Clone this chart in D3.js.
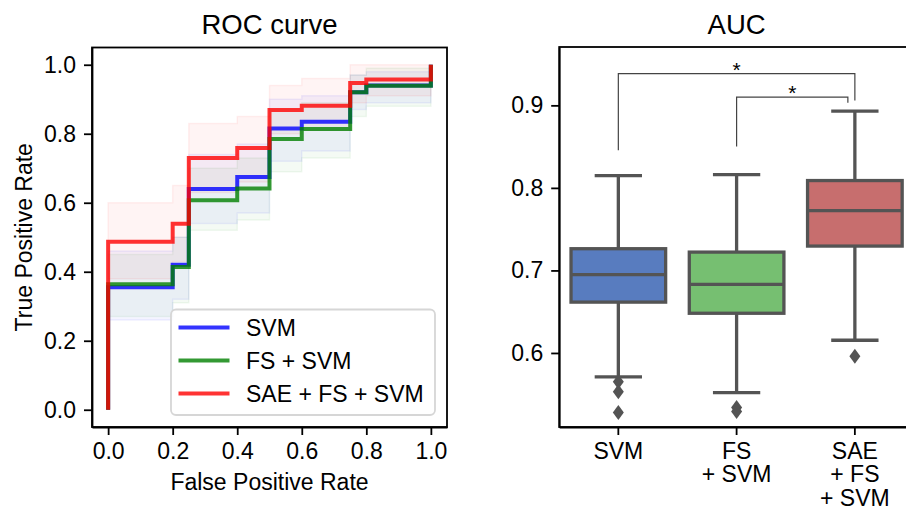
<!DOCTYPE html>
<html>
<head>
<meta charset="utf-8">
<script src="https://cdn.jsdelivr.net/npm/d3@7"></script>
<style>
  body { margin: 0; background: #fff; }
  svg { display: block; font-family: "Liberation Sans", Arial, sans-serif; }
  .axis path, .axis line { stroke: #000; stroke-width: 1.8; }
  .axis text { font-size: 23px; fill: #000; }
</style>
</head>
<body>
<div id="chart"></div>
<script>
// ROC DATA
var fprSteps = [0, 0.2, 0.25, 0.4, 0.5, 0.6, 0.75, 0.8, 1.0];
var svmTpr = [0.355, 0.42, 0.64, 0.675, 0.815, 0.835, 0.92, 0.94, 1.0];
var fsTpr = [0.364, 0.414, 0.607, 0.641, 0.785, 0.814, 0.92, 0.939, 1.0];
var saeTpr = [0.487, 0.539, 0.73, 0.759, 0.869, 0.881, 0.947, 0.957, 1.0];
var svmUpper = [0.46, 0.50, 0.74, 0.77, 0.90, 0.91, 0.97, 0.98, 0.98];
var svmLower = [0.26, 0.32, 0.54, 0.57, 0.72, 0.75, 0.87, 0.89, 0.89];
var fsUpper = [0.45, 0.50, 0.70, 0.73, 0.87, 0.89, 0.97, 0.99, 0.99];
var fsLower = [0.27, 0.31, 0.52, 0.55, 0.69, 0.73, 0.85, 0.88, 0.88];
var saeUpper = [0.60, 0.65, 0.83, 0.85, 0.94, 0.96, 1.0, 1.0, 1.0];
var saeLower = [0.38, 0.43, 0.63, 0.66, 0.80, 0.81, 0.89, 0.91, 0.91];
var rocNames = ["SVM", "FS + SVM", "SAE + FS + SVM"];
var rocTicks = [0, 0.2, 0.4, 0.6, 0.8, 1.0];

// AUC DATA
var aucCategories = ["SVM", "FS + SVM", "SAE + FS + SVM"];
var aucLabelLines = [["SVM"], ["FS", "+ SVM"], ["SAE", "+ FS", "+ SVM"]];
var aucQ1 = [0.6616, 0.6481, 0.7295];
var aucMedian = [0.6948, 0.683, 0.7725];
var aucQ3 = [0.7263, 0.7222, 0.8089];
var aucWhiskerLow = [0.571, 0.552, 0.6154];
var aucWhiskerHigh = [0.8149, 0.8161, 0.8931];
var aucOutliers = [[0.565, 0.553, 0.528], [0.534, 0.529], [0.596]];
var aucTicks = [0.6, 0.7, 0.8, 0.9];
var sigPairs = [[0, 2, 0.8455, 0.9384, 0.906], [1, 2, 0.85, 0.91, 0.9033]];

var rocColors = ["#0000ff", "#008000", "#ff0000"];
var boxColors = ["#587cbf", "#76bf71", "#c76e6e"];
var gray = "#545454";

var svg = d3.select("#chart").append("svg")
    .attr("width", 906)
    .attr("height", 509);

// ROC CURVE
var rocMargin = {left: 92, top: 47.5, right: 447, bottom: 427};
var xRoc = d3.scaleLinear().domain([-0.05, 1.05]).range([rocMargin.left, rocMargin.right]);
var yRoc = d3.scaleLinear().domain([-0.05, 1.05]).range([rocMargin.bottom, rocMargin.top]);

svg.append("clipPath").attr("id", "rocClip")
  .append("rect")
    .attr("x", rocMargin.left).attr("y", rocMargin.top)
    .attr("width", rocMargin.right - rocMargin.left)
    .attr("height", rocMargin.bottom - rocMargin.top);

var rocG = svg.append("g").attr("clip-path", "url(#rocClip)");

var bands = [[svmLower, svmUpper], [fsLower, fsUpper], [saeLower, saeUpper]];
var band = d3.area()
    .curve(d3.curveStepAfter)
    .x(function(d) { return xRoc(d.x); })
    .y0(function(d) { return yRoc(d.lo); })
    .y1(function(d) { return yRoc(d.hi); });

bands.forEach(function(b, i) {
  var pts = fprSteps.map(function(x, j) { return {x: x, lo: b[0][j], hi: b[1][j]}; });
  rocG.append("path")
      .attr("d", band(pts))
      .attr("fill", rocColors[i])
      .attr("fill-opacity", 0.045)
      .attr("stroke", rocColors[i])
      .attr("stroke-opacity", 0.06)
      .attr("stroke-width", 1.5);
});

var rocLine = d3.line()
    .curve(d3.curveStepAfter)
    .x(function(d) { return xRoc(d[0]); })
    .y(function(d) { return yRoc(d[1]); });

[svmTpr, fsTpr, saeTpr].forEach(function(tpr, i) {
  var pts = [[0, 0]].concat(fprSteps.map(function(x, j) { return [x, tpr[j]]; }));
  rocG.append("path")
      .attr("d", rocLine(pts))
      .attr("fill", "none")
      .attr("stroke", rocColors[i])
      .attr("stroke-opacity", 0.8)
      .attr("stroke-width", 4);
});

svg.append("g")
    .attr("class", "axis")
    .attr("transform", "translate(0," + rocMargin.bottom + ")")
    .call(d3.axisBottom(xRoc).tickValues(rocTicks).tickFormat(d3.format(".1f")).tickSize(8).tickPadding(8).tickSizeOuter(0));

svg.append("g")
    .attr("class", "axis")
    .attr("transform", "translate(" + rocMargin.left + ",0)")
    .call(d3.axisLeft(yRoc).tickValues(rocTicks).tickFormat(d3.format(".1f")).tickSize(8).tickPadding(8).tickSizeOuter(0));

svg.append("rect")
    .attr("x", rocMargin.left).attr("y", rocMargin.top)
    .attr("width", rocMargin.right - rocMargin.left)
    .attr("height", rocMargin.bottom - rocMargin.top)
    .attr("fill", "none").attr("stroke", "#000").attr("stroke-width", 1.8);

// LEGEND
var legend = svg.append("g");
legend.append("rect")
    .attr("x", 171).attr("y", 309.5).attr("width", 264).attr("height", 105.5)
    .attr("rx", 5)
    .attr("fill", "#fff").attr("fill-opacity", 0.8)
    .attr("stroke", "#d6d6d6").attr("stroke-width", 1.8);

rocNames.forEach(function(name, i) {
  var y = 327.5 + i * 33;
  legend.append("line")
      .attr("x1", 178.5).attr("x2", 229.5).attr("y1", y).attr("y2", y)
      .attr("stroke", rocColors[i]).attr("stroke-opacity", 0.8).attr("stroke-width", 4);
  legend.append("text")
      .attr("x", 246).attr("y", y + 8.5)
      .attr("font-size", 23)
      .text(name);
});

svg.append("text")
    .attr("x", (rocMargin.left + rocMargin.right) / 2).attr("y", 33.5)
    .attr("text-anchor", "middle").attr("font-size", 27.5)
    .text("ROC curve");

svg.append("text")
    .attr("x", (rocMargin.left + rocMargin.right) / 2).attr("y", 490)
    .attr("text-anchor", "middle").attr("font-size", 23)
    .text("False Positive Rate");

svg.append("text")
    .attr("transform", "translate(31.5," + (rocMargin.top + rocMargin.bottom) / 2 + ") rotate(-90)")
    .attr("text-anchor", "middle").attr("font-size", 23)
    .text("True Positive Rate");

// AUC BOXPLOT
var aucMargin = {left: 559.2, top: 47, right: 914, bottom: 427};
var xAuc = d3.scaleBand().domain(aucCategories).range([aucMargin.left, aucMargin.right]);
var yAuc = d3.scaleLinear().domain([0.5103, 0.9707]).range([aucMargin.bottom, aucMargin.top]);

svg.append("g")
    .attr("class", "axis")
    .attr("transform", "translate(" + aucMargin.left + ",0)")
    .call(d3.axisLeft(yAuc).tickValues(aucTicks).tickFormat(d3.format(".1f")).tickSize(8).tickPadding(8).tickSizeOuter(0));

var xAxisAuc = svg.append("g")
    .attr("class", "axis")
    .attr("transform", "translate(0," + aucMargin.bottom + ")")
    .call(d3.axisBottom(xAuc).tickSize(8).tickSizeOuter(0));
xAxisAuc.selectAll(".tick text").remove();
xAxisAuc.selectAll(".tick").each(function(d, i) {
  var t = d3.select(this).append("text")
      .attr("fill", "#000")
      .attr("font-size", 21.5)
      .attr("text-anchor", "middle");
  aucLabelLines[i].forEach(function(line, j) {
    t.append("tspan").attr("x", 0).attr("y", 31.5 + j * 23.5).text(line);
  });
});

var bw = xAuc.bandwidth() * 0.8;
var boxes = svg.append("g");
aucCategories.forEach(function(c, i) {
  var cx = xAuc(c) + xAuc.bandwidth() / 2;
  var g = boxes.append("g");
  g.append("line")
      .attr("x1", cx).attr("x2", cx)
      .attr("y1", yAuc(aucQ3[i])).attr("y2", yAuc(aucWhiskerHigh[i]))
      .attr("stroke", gray).attr("stroke-width", 3.3);
  g.append("line")
      .attr("x1", cx).attr("x2", cx)
      .attr("y1", yAuc(aucQ1[i])).attr("y2", yAuc(aucWhiskerLow[i]))
      .attr("stroke", gray).attr("stroke-width", 3.3);
  [aucWhiskerHigh[i], aucWhiskerLow[i]].forEach(function(v) {
    g.append("line")
        .attr("x1", cx - bw / 4).attr("x2", cx + bw / 4)
        .attr("y1", yAuc(v)).attr("y2", yAuc(v))
        .attr("stroke", gray).attr("stroke-width", 3.3);
  });
  g.append("rect")
      .attr("x", cx - bw / 2).attr("width", bw)
      .attr("y", yAuc(aucQ3[i])).attr("height", yAuc(aucQ1[i]) - yAuc(aucQ3[i]))
      .attr("fill", boxColors[i])
      .attr("stroke", gray).attr("stroke-width", 3.3);
  g.append("line")
      .attr("x1", cx - bw / 2).attr("x2", cx + bw / 2)
      .attr("y1", yAuc(aucMedian[i])).attr("y2", yAuc(aucMedian[i]))
      .attr("stroke", gray).attr("stroke-width", 3.3);
  aucOutliers[i].forEach(function(v) {
    var y = yAuc(v);
    g.append("path")
        .attr("d", "M" + cx + "," + (y - 7.5) + "L" + (cx + 5.5) + "," + y + "L" + cx + "," + (y + 7.5) + "L" + (cx - 5.5) + "," + y + "Z")
        .attr("fill", gray);
  });
});

// SIGNIFICANCE BRACKETS
sigPairs.forEach(function(p, k) {
  var x1 = xAuc(aucCategories[p[0]]) + xAuc.bandwidth() / 2;
  var x2 = xAuc(aucCategories[p[1]]) + xAuc.bandwidth() / 2 - (k === 1 ? 7 : 0);
  svg.append("path")
      .attr("d", "M" + x1 + "," + yAuc(p[2]) + "V" + yAuc(p[3]) + "H" + x2 + "V" + yAuc(p[4]))
      .attr("fill", "none").attr("stroke", "#444").attr("stroke-width", 1.2);
  svg.append("text")
      .attr("x", (x1 + x2) / 2).attr("y", yAuc(p[3]) + 3)
      .attr("text-anchor", "middle").attr("font-size", 21)
      .text("*");
});

svg.append("rect")
    .attr("x", aucMargin.left).attr("y", aucMargin.top)
    .attr("width", aucMargin.right - aucMargin.left)
    .attr("height", aucMargin.bottom - aucMargin.top)
    .attr("fill", "none").attr("stroke", "#000").attr("stroke-width", 1.8);

svg.append("text")
    .attr("x", (aucMargin.left + aucMargin.right) / 2).attr("y", 33.5)
    .attr("text-anchor", "middle").attr("font-size", 27.5)
    .text("AUC");
</script>
</body>
</html>
